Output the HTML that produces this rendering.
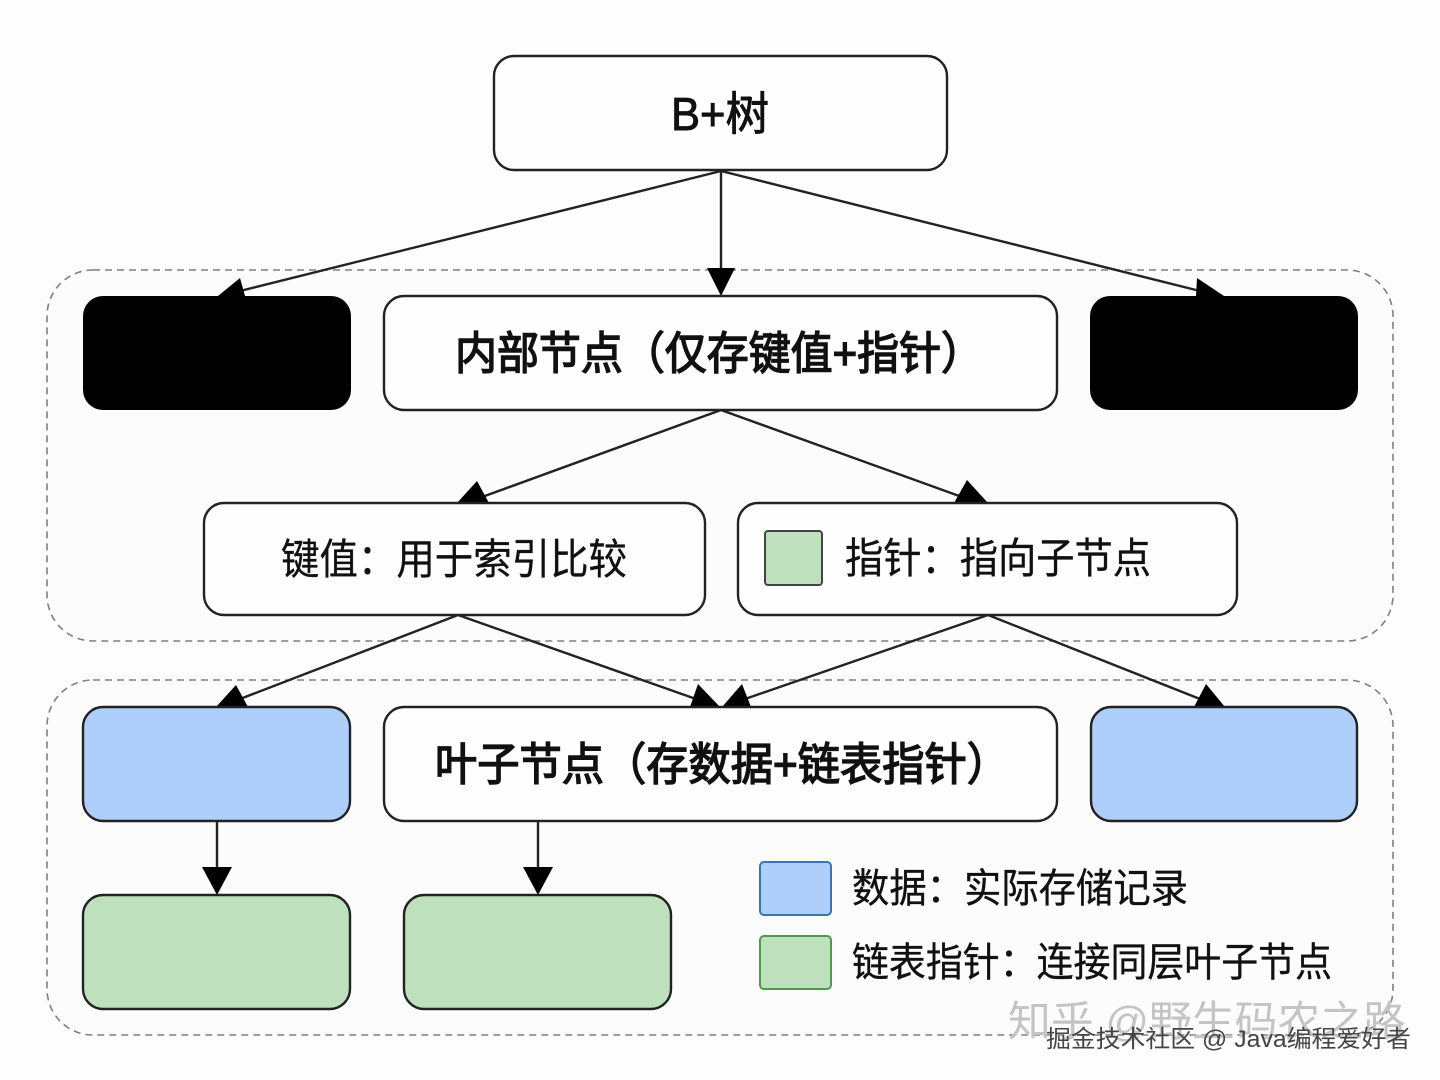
<!DOCTYPE html>
<html><head><meta charset="utf-8">
<style>html,body{margin:0;padding:0;background:#fff}svg{display:block}
text{font-family:"Liberation Sans","Noto Sans CJK SC",sans-serif;fill:#111}
.h{stroke:#111;stroke-width:1.5px}
.b{stroke:#111;stroke-width:.35px}</style></head>
<body>
<svg width="1440" height="1080" viewBox="0 0 1440 1080" xmlns="http://www.w3.org/2000/svg">
<rect width="1440" height="1080" fill="#fdfdfd"/>
<rect x="47" y="270" width="1346" height="371" rx="46" fill="#fcfcfc" stroke="#808080" stroke-width="1.6" stroke-dasharray="7 5"/>
<rect x="47" y="680" width="1346" height="355" rx="46" fill="#fcfcfc" stroke="#808080" stroke-width="1.6" stroke-dasharray="7 5"/>

<g stroke="#222" stroke-width="2.4" fill="none">
<line x1="721" y1="171" x2="240" y2="291"/>
<line x1="721" y1="171" x2="721" y2="270"/>
<line x1="721" y1="171" x2="1200" y2="291"/>
<line x1="721" y1="410" x2="482" y2="497"/>
<line x1="721" y1="410" x2="962" y2="497"/>
<line x1="458" y1="615" x2="240" y2="699"/>
<line x1="458" y1="615" x2="696" y2="699"/>
<line x1="988" y1="615" x2="745" y2="699"/>
<line x1="988" y1="615" x2="1200" y2="699"/>
<line x1="217" y1="821" x2="217" y2="870"/>
<line x1="538" y1="821" x2="538" y2="870"/>
</g>
<g fill="#000">
<polygon points="218,296 240,278 245,296"/>
<polygon points="707,268 735,268 721,296"/>
<polygon points="1197,278 1224,296 1196,296"/>
<polygon points="457,503 477,481 489,503"/>
<polygon points="954,503 967,480 988,503"/>
<polygon points="216,707 236,685 248,707"/>
<polygon points="690,707 698,684 720,707"/>
<polygon points="722,707 742,684 751,707"/>
<polygon points="1194,707 1206,684 1225,707"/>
<polygon points="202,867 232,867 217,895"/>
<polygon points="523,867 553,867 538,895"/>
</g>

<rect x="494" y="56" width="453" height="114" rx="20" fill="#fefefe" stroke="#222" stroke-width="2.4"/>
<text x="671" y="130" font-size="46" textLength="98" lengthAdjust="spacingAndGlyphs" style="stroke:#111;stroke-width:.9px">B+树</text>

<rect x="83" y="296" width="268" height="114" rx="20" fill="#000"/>
<rect x="1090" y="296" width="268" height="114" rx="20" fill="#000"/>
<rect x="384" y="296" width="673" height="114" rx="20" fill="#fefefe" stroke="#222" stroke-width="2.4"/>
<text class="h" x="455" y="369" font-size="45" textLength="528" lengthAdjust="spacingAndGlyphs">内部节点（仅存键值+指针）</text>

<rect x="204" y="503" width="501" height="112" rx="20" fill="#fefefe" stroke="#222" stroke-width="2.4"/>
<text class="b" x="281" y="574" font-size="42" textLength="346" lengthAdjust="spacingAndGlyphs">键值：用于索引比较</text>
<rect x="738" y="503" width="499" height="112" rx="20" fill="#fefefe" stroke="#222" stroke-width="2.4"/>
<rect x="765" y="531" width="57" height="54" rx="3" fill="#bfe0bd" stroke="#444" stroke-width="2"/>
<text class="b" x="845" y="573" font-size="42" textLength="306" lengthAdjust="spacingAndGlyphs">指针：指向子节点</text>

<rect x="83" y="707" width="267" height="114" rx="20" fill="#aecffa" stroke="#222" stroke-width="2.4"/>
<rect x="1091" y="707" width="266" height="114" rx="20" fill="#aecffa" stroke="#222" stroke-width="2.4"/>
<rect x="384" y="707" width="673" height="114" rx="20" fill="#fefefe" stroke="#222" stroke-width="2.4"/>
<text class="h" x="435" y="780" font-size="45" textLength="574" lengthAdjust="spacingAndGlyphs">叶子节点（存数据+链表指针）</text>

<rect x="83" y="895" width="267" height="114" rx="20" fill="#bfe0bd" stroke="#222" stroke-width="2.4"/>
<rect x="404" y="895" width="267" height="114" rx="20" fill="#bfe0bd" stroke="#222" stroke-width="2.4"/>

<rect x="760" y="862" width="71" height="53" rx="4" fill="#aecffa" stroke="#3a74b8" stroke-width="2"/>
<rect x="760" y="936" width="71" height="53" rx="4" fill="#bfe0bd" stroke="#4f9a4a" stroke-width="2"/>
<text class="b" x="852" y="902" font-size="40" textLength="336" lengthAdjust="spacingAndGlyphs">数据：实际存储记录</text>
<text class="b" x="852" y="976" font-size="40" textLength="480" lengthAdjust="spacingAndGlyphs">链表指针：连接同层叶子节点</text>

<text x="1008" y="1036" font-size="42" style="fill:#c4c4c4" textLength="398" lengthAdjust="spacingAndGlyphs">知乎 @野生码农之路</text>
<text x="1046" y="1047" font-size="24" style="fill:#444" textLength="365" lengthAdjust="spacingAndGlyphs">掘金技术社区 @ Java编程爱好者</text>
</svg>
</body></html>
